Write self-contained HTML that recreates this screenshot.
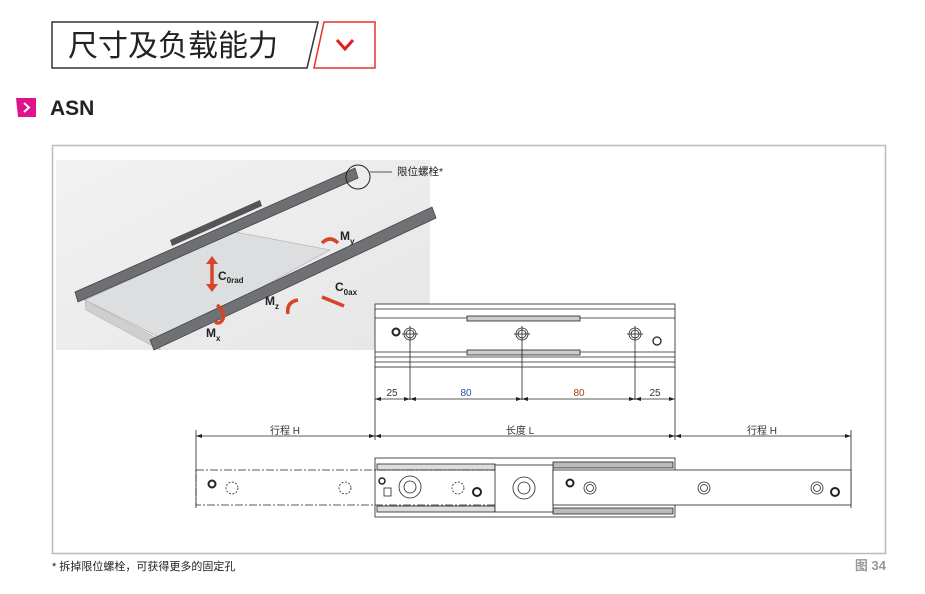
<!DOCTYPE html>
<html><head><meta charset="utf-8"><style>
body{margin:0;background:#fff;width:925px;height:589px;overflow:hidden;font-family:"Liberation Sans","Noto Sans CJK SC",sans-serif}
</style></head><body>
<svg width="925" height="589" viewBox="0 0 925 589" xmlns="http://www.w3.org/2000/svg" font-family="Liberation Sans, Noto Sans CJK SC, sans-serif">
<defs>
<linearGradient id="g" x1="0" y1="0" x2="1" y2="1"><stop offset="0" stop-color="#f2f2f2"/><stop offset="1" stop-color="#e6e6e6"/></linearGradient>
<marker id="a" markerWidth="6" markerHeight="4" refX="6" refY="2" orient="auto-start-reverse" markerUnits="userSpaceOnUse"><path d="M0,0 L6,2 L0,4z" fill="#222"/></marker>
</defs>
<!-- header -->
<polygon points="52,22 318,22 307,68 52,68" fill="#fff" stroke="#333" stroke-width="1.5"/>
<text x="68" y="56" font-size="30" fill="#222">尺寸及负载能力</text>
<polygon points="324,22 375,22 375,68 314,68" fill="#fff" stroke="#e83030" stroke-width="1.5"/>
<polyline points="337,40 345,49 353,40" fill="none" stroke="#e02020" stroke-width="3"/>
<polygon points="16,98 36,98 36,117 18,117" fill="#e0148a"/>
<polyline points="24,103 29,107.5 24,112" fill="none" stroke="#fff" stroke-width="2"/>
<text x="50" y="115" font-size="21" font-weight="bold" fill="#222">ASN</text>
<!-- frame -->
<rect x="52.5" y="145.5" width="833" height="408" fill="#fff" stroke="#bbb" stroke-width="1.5"/>
<!-- photo -->
<rect x="56" y="160" width="374" height="190" fill="url(#g)"/>
<polygon points="85,300 235,232 330,250 165,340" fill="#dcdee0" stroke="#aaa" stroke-width="0.6"/>
<polygon points="85,300 160,340 160,350 86,310" fill="#cfcfcf" stroke="#aaa" stroke-width="0.5"/>
<polygon points="75,292 355,168 358,178 78,302" fill="#6d6f72" stroke="#444" stroke-width="0.8"/>
<polygon points="150,340 432,207 436,218 154,350" fill="#6f7174" stroke="#444" stroke-width="0.8"/>
<polygon points="170,240 260,200 262,206 172,246" fill="#555"/>
<circle cx="358" cy="177" r="12" fill="none" stroke="#222" stroke-width="1"/>
<line x1="370" y1="172" x2="392" y2="172" stroke="#222" stroke-width="0.8"/>
<text x="397" y="175" font-size="10.5" fill="#222">限位螺栓*</text>
<g fill="none" stroke="#d8432a" stroke-width="3.5">
<line x1="212" y1="262" x2="212" y2="286"/>
<path d="M322,243 q8,-8 16,0"/>
<path d="M288,314 q-2,-12 10,-14"/>
<line x1="322" y1="297" x2="344" y2="306"/>
<path d="M217,305 q8,6 6,14 q-3,6 -8,3"/>
</g>
<polygon points="206,264 212,256 218,264" fill="#d8432a"/><polygon points="206,284 212,292 218,284" fill="#d8432a"/>
<g font-size="12" font-weight="bold" fill="#222">
<text x="218" y="280">C<tspan font-size="8" dy="3">0rad</tspan></text>
<text x="340" y="240">M<tspan font-size="8" dy="4">y</tspan></text>
<text x="335" y="291">C<tspan font-size="8" dy="4">0ax</tspan></text>
<text x="265" y="305">M<tspan font-size="8" dy="4">z</tspan></text>
<text x="206" y="337">M<tspan font-size="8" dy="4">x</tspan></text>
</g>
<!-- top drawing -->
<g stroke="#222" stroke-width="0.8" fill="none">
<rect x="375" y="304" width="300" height="63" fill="#fff"/>
<line x1="375" y1="309" x2="675" y2="309"/><line x1="375" y1="318" x2="675" y2="318"/>
<line x1="375" y1="352" x2="675" y2="352"/><line x1="375" y1="357" x2="675" y2="357"/><line x1="375" y1="362" x2="675" y2="362"/>
<rect x="467" y="316" width="113" height="5" fill="#ccc"/><rect x="467" y="350" width="113" height="5" fill="#ccc"/>
<circle cx="396" cy="332" r="3.5" stroke-width="2"/><circle cx="657" cy="341" r="4" stroke-width="1.3"/>
<g><circle cx="410" cy="334" r="6"/><circle cx="410" cy="334" r="4"/><line x1="402" y1="334" x2="418" y2="334"/><line x1="410" y1="326" x2="410" y2="400"/></g>
<g><circle cx="522" cy="334" r="6"/><circle cx="522" cy="334" r="4"/><line x1="514" y1="334" x2="530" y2="334"/><line x1="522" y1="326" x2="522" y2="400"/></g>
<g><circle cx="635" cy="334" r="6"/><circle cx="635" cy="334" r="4"/><line x1="627" y1="334" x2="643" y2="334"/><line x1="635" y1="326" x2="635" y2="400"/></g>
<line x1="375" y1="367" x2="375" y2="440"/><line x1="675" y1="367" x2="675" y2="440"/>
<line x1="375" y1="399" x2="410" y2="399" marker-start="url(#a)" marker-end="url(#a)"/>
<line x1="410" y1="399" x2="522" y2="399" marker-start="url(#a)" marker-end="url(#a)"/>
<line x1="522" y1="399" x2="635" y2="399" marker-start="url(#a)" marker-end="url(#a)"/>
<line x1="635" y1="399" x2="675" y2="399" marker-start="url(#a)" marker-end="url(#a)"/>
<line x1="196" y1="430" x2="196" y2="508"/><line x1="851" y1="430" x2="851" y2="508"/>
<line x1="196" y1="436" x2="375" y2="436" marker-start="url(#a)" marker-end="url(#a)"/>
<line x1="375" y1="436" x2="675" y2="436" marker-start="url(#a)" marker-end="url(#a)"/>
<line x1="675" y1="436" x2="851" y2="436" marker-start="url(#a)" marker-end="url(#a)"/>
</g>
<g font-size="10" fill="#333" text-anchor="middle">
<text x="392" y="396">25</text><text x="466" y="396" fill="#2a4a9a">80</text><text x="579" y="396" fill="#a04010">80</text><text x="655" y="396">25</text>
<text x="285" y="434">行程  H</text><text x="520" y="434">长度  L</text><text x="762" y="434">行程  H</text>
</g>
<!-- bottom drawing -->
<g stroke="#222" stroke-width="0.8" fill="none">
<rect x="375" y="458" width="300" height="59" fill="#fff"/>
<rect x="553" y="462" width="120" height="6" fill="#bbb"/><rect x="553" y="508" width="120" height="6" fill="#bbb"/>
<rect x="377" y="464" width="118" height="6" fill="#ddd"/><rect x="377" y="506" width="118" height="6" fill="#ddd"/>
<g stroke-dasharray="8,2,2,2"><rect x="196" y="470" width="300" height="35"/></g>
<rect x="495" y="465" width="58" height="47" fill="#fff"/>
<circle cx="524" cy="488" r="11"/><circle cx="524" cy="488" r="6"/>
<rect x="553" y="470" width="298" height="35" fill="#fff"/>
<circle cx="410" cy="487" r="11"/><circle cx="410" cy="487" r="6"/>
<circle cx="212" cy="484" r="3.5" stroke-width="2"/><circle cx="232" cy="488" r="6" stroke-dasharray="2,1.5"/>
<circle cx="345" cy="488" r="6" stroke-dasharray="2,1.5"/><circle cx="458" cy="488" r="6" stroke-dasharray="2,1.5"/>
<circle cx="382" cy="481" r="3" stroke-width="1.5"/><rect x="384" y="488" width="7" height="8"/><circle cx="477" cy="492" r="4" stroke-width="2"/>
<circle cx="570" cy="483" r="3.5" stroke-width="2"/><circle cx="590" cy="488" r="6"/><circle cx="590" cy="488" r="3.5"/>
<circle cx="704" cy="488" r="6"/><circle cx="704" cy="488" r="3.5"/>
<circle cx="817" cy="488" r="6"/><circle cx="817" cy="488" r="3.5"/><circle cx="835" cy="492" r="4" stroke-width="2"/>
</g>
<text x="52" y="570" font-size="11" fill="#222">* 拆掉限位螺栓，可获得更多的固定孔</text>
<text x="886" y="570" font-size="13" font-weight="bold" fill="#999" text-anchor="end">图 34</text>
</svg>
</body></html>
